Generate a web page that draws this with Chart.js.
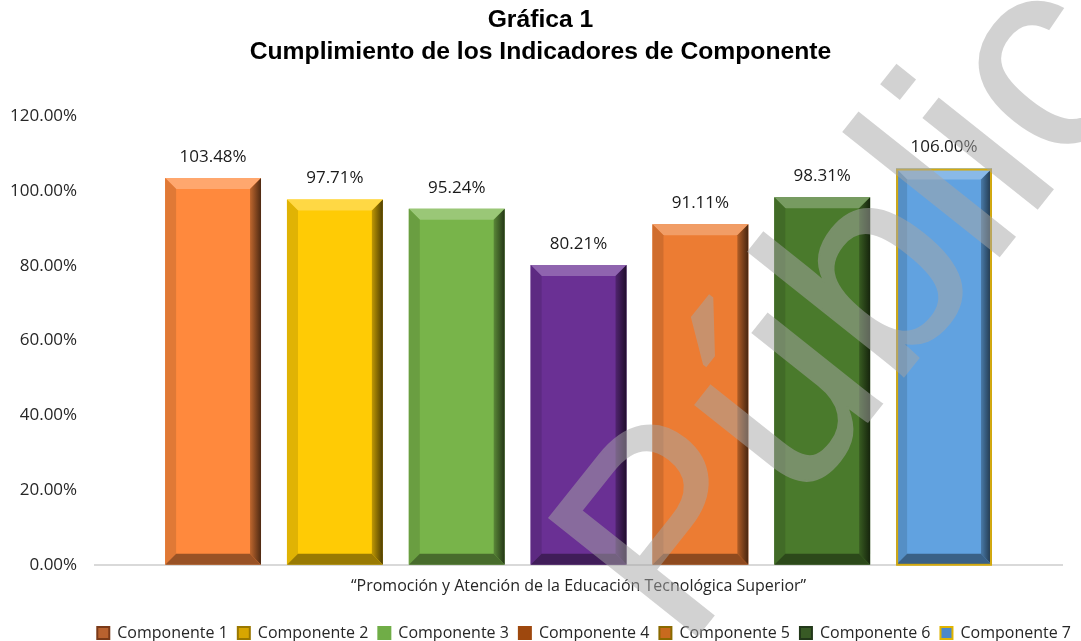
<!doctype html>
<html>
<head>
  <meta charset="utf-8">
  <title>Gráfica 1</title>
  <script src="https://cdn.jsdelivr.net/npm/chart.js@4.4.1/dist/chart.umd.min.js"></script>
  <style>
    html, body { margin: 0; padding: 0; background: #fff; }
    .chart { width: 1081px; height: 641px; }
  </style>
</head>
<body>
  <div class="chart">
    <canvas id="myChart"></canvas>
  </div>

  <script>
    var categories = ['\u201CPromoción y Atención de la Educación Tecnológica Superior\u201D'];
    var seriesNames = ['Componente 1', 'Componente 2', 'Componente 3', 'Componente 4',
                       'Componente 5', 'Componente 6', 'Componente 7'];
    var seriesValues = [103.48, 97.71, 95.24, 80.21, 91.11, 98.31, 106.00];
    var barColors = ['#FF893D', '#FFCB05', '#78B44A', '#6A3094', '#EC7C33', '#4A7A2C', '#61A2E0'];
    var legendColors = ['#B9622F', '#D8A600', '#70AD47', '#9E480E', '#C86A1E', '#385A25', '#4C88C8'];
    var legendBorders = ['#7A3A18', '#9A7800', '#70AD47', '#9E480E', '#8A6A00', '#22381A', '#E0B400'];
    var yTicks = [0, 20, 40, 60, 80, 100, 120];

    var FONT = '"Open Sans", "Noto Sans", sans-serif';

    function shade(hex, amt) {
      var n = parseInt(hex.slice(1), 16);
      var r = (n >> 16) & 255, g = (n >> 8) & 255, b = n & 255;
      function f(c) {
        return Math.round(amt < 0 ? c * (1 + amt) : c + (255 - c) * amt);
      }
      return 'rgb(' + f(r) + ',' + f(g) + ',' + f(b) + ')';
    }

    // bevel look drawn on top of each bar, using the bar elements' own geometry
    var bevel = {
      id: 'bevel',
      afterDatasetsDraw: function(chart) {
        var ctx = chart.ctx;
        chart.data.datasets.forEach(function(ds, i) {
          var meta = chart.getDatasetMeta(i);
          meta.data.forEach(function(bar) {
            var p = bar.getProps(['x', 'y', 'base', 'width'], true);
            var l = p.x - p.width / 2, r = p.x + p.width / 2, t = p.y, b = p.base;
            var d = 11, c = barColors[i];
            ctx.save();
            // top
            ctx.fillStyle = shade(c, 0.25);
            ctx.beginPath();
            ctx.moveTo(l, t); ctx.lineTo(r, t); ctx.lineTo(r - d, t + d); ctx.lineTo(l + d, t + d);
            ctx.closePath(); ctx.fill();
            // left
            ctx.fillStyle = shade(c, -0.12);
            ctx.beginPath();
            ctx.moveTo(l, t); ctx.lineTo(l + d, t + d); ctx.lineTo(l + d, b - d); ctx.lineTo(l, b);
            ctx.closePath(); ctx.fill();
            // right
            var g = ctx.createLinearGradient(r - d, 0, r, 0);
            g.addColorStop(0, shade(c, -0.25));
            g.addColorStop(1, shade(c, -0.7));
            ctx.fillStyle = g;
            ctx.beginPath();
            ctx.moveTo(r, t); ctx.lineTo(r - d, t + d); ctx.lineTo(r - d, b - d); ctx.lineTo(r, b);
            ctx.closePath(); ctx.fill();
            // bottom
            ctx.fillStyle = shade(c, -0.4);
            ctx.beginPath();
            ctx.moveTo(l, b); ctx.lineTo(l + d, b - d); ctx.lineTo(r - d, b - d); ctx.lineTo(r, b);
            ctx.closePath(); ctx.fill();
            if (i === 6) {
              ctx.strokeStyle = '#D4AA10';
              ctx.lineWidth = 2;
              ctx.strokeRect(l + 1, t + 1, p.width - 2, b - t - 1);
            }
            ctx.restore();
          });
        });
      }
    };

    var valueLabels = {
      id: 'valueLabels',
      afterDatasetsDraw: function(chart) {
        var ctx = chart.ctx;
        ctx.save();
        ctx.font = '17px ' + FONT;
        ctx.fillStyle = '#1A1A1A';
        ctx.textAlign = 'center';
        ctx.textBaseline = 'middle';
        chart.data.datasets.forEach(function(ds, i) {
          chart.getDatasetMeta(i).data.forEach(function(bar, j) {
            ctx.fillText(ds.data[j].toFixed(2) + '%', bar.x, bar.y - 21);
          });
        });
        ctx.restore();
      }
    };

    // grey "Público" stamp laid over the whole picture
    var watermark = {
      id: 'watermark',
      afterDraw: function(chart) {
        var off = document.createElement('canvas');
        off.width = chart.width;
        off.height = chart.height;
        var o = off.getContext('2d');
        var em = 275;
        o.translate(694, 322);
        o.rotate(-51.5 * Math.PI / 180);
        o.font = em + 'px "Liberation Sans", Arial, sans-serif';
        o.fillStyle = '#A6A6A6';
        o.strokeStyle = '#A6A6A6';
        o.lineWidth = 2;
        o.fillText('Público', -0.967 * em, 0.72 * em);
        o.strokeText('Público', -0.967 * em, 0.72 * em);
        var ctx = chart.ctx;
        ctx.save();
        ctx.globalAlpha = 0.5;
        ctx.drawImage(off, 0, 0, chart.width, chart.height);
        ctx.restore();
      }
    };

    var datasets = seriesNames.map(function(name, i) {
      return {
        label: name,
        data: [seriesValues[i]],
        backgroundColor: barColors[i],
        borderWidth: 0
      };
    });

    var config = {
      type: 'bar',
      data: { labels: categories, datasets: datasets },
      plugins: [bevel, valueLabels, watermark],
      options: {
        responsive: true,
        maintainAspectRatio: false,
        animation: false,
        layout: { padding: { left: 0, right: 0, top: 0, bottom: -10 } },
        datasets: {
          bar: { categoryPercentage: 0.882, barPercentage: 0.787 }
        },
        scales: {
          x: {
            grid: { display: false },
            border: { color: '#D9D9D9', width: 2 },
            ticks: {
              color: '#262626',
              font: { family: FONT, size: 16 },
              padding: 4
            },
            afterFit: function(scale) { scale.height += 15; }
          },
          y: {
            min: 0,
            max: 120,
            afterBuildTicks: function(axis) {
              axis.ticks = yTicks.map(function(v) { return { value: v }; });
            },
            grid: { display: false },
            border: { display: false },
            ticks: {
              color: '#262626',
              font: { family: FONT, size: 17 },
              padding: 10,
              callback: function(v) { return v.toFixed(2) + '%'; }
            }
          },
          // empty right-hand gutter
          y2: {
            position: 'right',
            grid: { display: false },
            border: { display: false },
            ticks: { display: false },
            afterFit: function(scale) { scale.width = 19; }
          }
        },
        plugins: {
          title: {
            display: true,
            text: ['Gráfica 1', 'Cumplimiento de los Indicadores de Componente'],
            color: '#000',
            font: { family: '"Liberation Sans", Arial, sans-serif', size: 24.7, weight: 'bold', lineHeight: 1.3 },
            padding: { top: 4, bottom: 48 }
          },
          legend: {
            position: 'bottom',
            align: 'end',
            labels: {
              color: '#262626',
              font: { family: FONT, size: 16 },
              boxWidth: 12,
              boxHeight: 12,
              padding: 10,
              generateLabels: function(chart) {
                return seriesNames.map(function(name, i) {
                  return {
                    text: name,
                    fillStyle: legendColors[i],
                    strokeStyle: legendBorders[i],
                    lineWidth: 2,
                    datasetIndex: i,
                    fontColor: '#262626'
                  };
                });
              }
            }
          },
          tooltip: { enabled: false }
        }
      }
    };

    window.onload = function() {
      var ctx = document.getElementById('myChart').getContext('2d');
      window.myChart = new Chart(ctx, config);
    };
  </script>
</body>
</html>
